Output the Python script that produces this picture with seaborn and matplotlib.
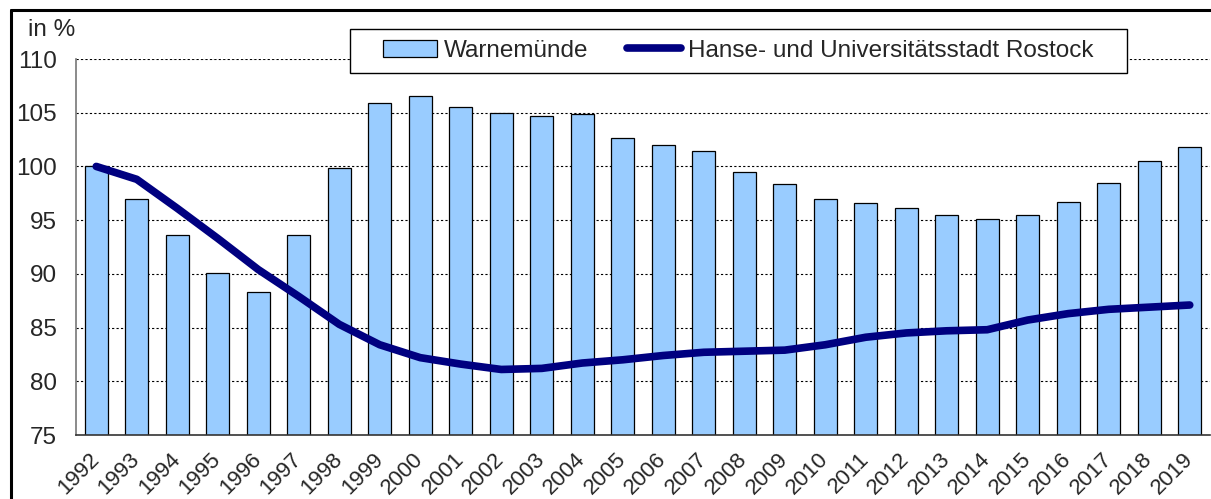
import matplotlib
matplotlib.use("Agg")
import matplotlib.pyplot as plt
import seaborn as sns
import pandas as pd
import numpy as np
from matplotlib.lines import Line2D
from matplotlib.patches import Patch, Rectangle

years = [str(y) for y in range(1992, 2020)]
warnemuende = [100.0, 97.0, 93.6, 90.1, 88.3, 93.6, 99.9, 105.9, 106.6, 105.5,
               105.0, 104.7, 104.9, 102.6, 102.0, 101.4, 99.5, 98.4, 97.0, 96.6,
               96.1, 95.5, 95.1, 95.5, 96.7, 98.5, 100.5, 101.8]
rostock = [100.0, 98.8, 96.1, 93.3, 90.4, 87.9, 85.3, 83.4, 82.2, 81.6,
           81.1, 81.2, 81.7, 82.0, 82.4, 82.7, 82.8, 82.9, 83.4, 84.1,
           84.5, 84.7, 84.8, 85.7, 86.3, 86.7, 86.9, 87.1]
yticks = [75, 80, 85, 90, 95, 100, 105, 110]
label_bar = "Warnemünde"
label_line = "Hanse- und Universitätsstadt Rostock"

sns.set_theme(style="white")
plt.rcParams['font.family'] = ['Liberation Sans', 'DejaVu Sans']

df = pd.DataFrame({"year": years, "w": warnemuende, "r": rostock, "pos": np.arange(len(years))})

W, H = 1211, 499
fig = plt.figure(figsize=(W/100, H/100), dpi=100)
ax = fig.add_axes([76/W, (H-435)/H, (1210-76)/W, (435-59)/H])

sns.barplot(data=df, x="year", y="w", ax=ax, color="#99CCFF", saturation=1,
            width=0.56, edgecolor="black", linewidth=0.9, zorder=2)
sns.lineplot(data=df, x="pos", y="r", ax=ax, color="#000080", linewidth=5.5,
             zorder=3, solid_capstyle="round", solid_joinstyle="round")

ax.set_ylim(75, 110)
ax.set_xlim(-0.5, len(years) - 0.5)
ax.set_yticks(yticks)
ax.set_yticklabels([str(v) for v in yticks], fontsize=17.5)
ax.set_xticks(np.arange(len(years)))
ax.set_xticklabels(years, fontsize=16, rotation=45, ha="right", va="center",
                   rotation_mode="anchor")
ax.set_xticks(np.arange(len(years) + 1) - 0.5, minor=True)
ax.tick_params(axis="x", which="major", length=0, pad=15)
ax.tick_params(axis="x", which="minor", length=6, color="#555555", width=1, direction="out")
ax.tick_params(axis="y", length=6, color="#555555", width=1, direction="out", pad=8)
ax.set_xlabel("")
ax.set_ylabel("")

for v in yticks[1:]:
    ax.axhline(v, color="black", linestyle=(0, (2, 2)), linewidth=0.8, zorder=1)

for s in ["top", "right"]:
    ax.spines[s].set_visible(False)
ax.spines["left"].set_color("#777777")
ax.spines["left"].set_linewidth(1.2)
ax.spines["bottom"].set_color("#333333")
ax.spines["bottom"].set_linewidth(1.2)

fig.text(52/W, 1 - 30/H, "in %", fontsize=17.5, ha="center", va="center")

# legend box
fig.add_artist(Rectangle((350/W, 1 - 73/H), (1127-350)/W, 44/H, transform=fig.transFigure,
                         facecolor="white", edgecolor="black", linewidth=1.0, zorder=4))
handles = [Patch(facecolor="#99CCFF", edgecolor="black", linewidth=0.9),
           Line2D([0], [0], color="#000080", linewidth=5.5, solid_capstyle="round")]
leg = fig.legend(handles, [label_bar, label_line], loc="center",
                 bbox_to_anchor=((350+1127)/2/W, 1 - 51/H), ncol=2, fontsize=17.5,
                 frameon=False, handlelength=2.2, handletextpad=0.3, columnspacing=1.6,
                 borderpad=0.3)
leg.set_zorder(5)

# outer frame (left and top edges visible)
fig.add_artist(Line2D([11/W, 11/W], [0, 1 - 10/H], transform=fig.transFigure,
                      color="black", linewidth=2.2))
fig.add_artist(Line2D([11/W, 1], [1 - 10/H, 1 - 10/H], transform=fig.transFigure,
                      color="black", linewidth=2.2))

fig.savefig("out.png", dpi=100, facecolor="white")
